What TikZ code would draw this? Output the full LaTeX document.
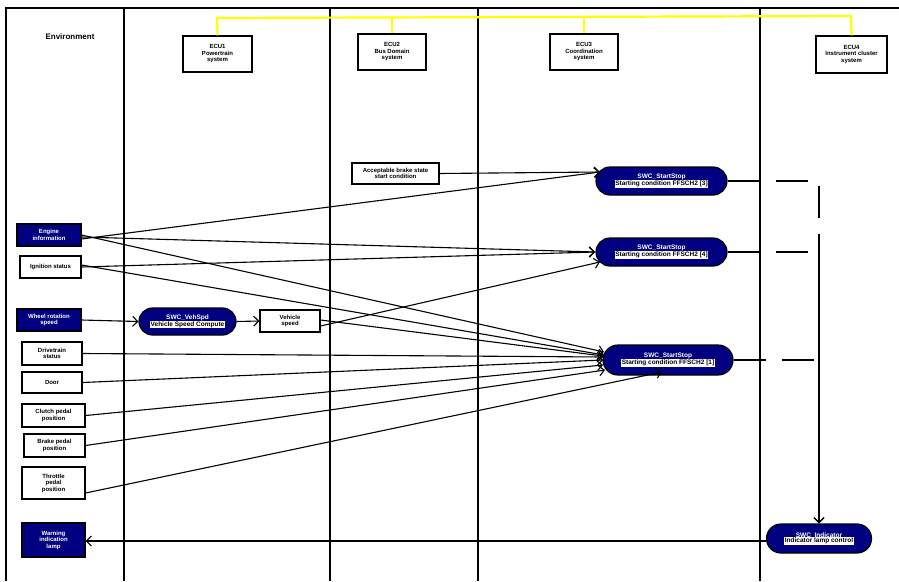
\documentclass[tikz,border=0pt]{standalone}
\usepackage{fontspec}
\setmainfont{Liberation Sans}
\usetikzlibrary{shapes.misc,arrows.meta}
\definecolor{navy}{RGB}{0,0,128}
\definecolor{yel}{RGB}{255,255,0}
\tikzset{
  lane/.style={line width=1.5pt,black},
  txt/.style={font=\fontsize{6}{6.5}\selectfont\bfseries,align=center,inner sep=1pt},
  wbox/.style={txt,draw,line width=1.2pt,fill=white,rectangle},
  bbox/.style={txt,draw,line width=1.2pt,fill=navy,text=white,rectangle},
  rnode/.style={txt,font=\fontsize{6.5}{6.5}\selectfont\bfseries,draw,line width=1.2pt,fill=navy,rounded rectangle},
  arr/.style={line width=1.1pt,-{Straight Barb[length=5pt,width=10pt,line width=1.1pt]}},
  dsh/.style={line width=1.1pt,dash pattern=on 32pt off 16pt,-{Straight Barb[length=5pt,width=10pt,line width=1.1pt]}},
  ylw/.style={line width=2.2pt,yel},
}
\newcommand{\rtxt}[2]{\textcolor{white}{#1}\\[-1pt]{\setlength{\fboxsep}{0.6pt}\colorbox{white}{\textcolor{black}{#2}}}}
\begin{document}
\begin{tikzpicture}[x=1pt,y=-1pt]
\useasboundingbox (0,0) rectangle (899,581);
% lanes
\draw[lane] (6,581) -- (6,8) -- (899,8);
\foreach \xx in {124,330,478,760} \draw[lane] (\xx,8) -- (\xx,581);
\node[txt,font=\fontsize{8}{9}\selectfont\bfseries] (env) at (70,37) {Environment};
% top boxes
\node[wbox,minimum width=69pt,minimum height=36pt] (e1) at (217.5,54) {ECU1\\Powertrain\\system};
\node[wbox,minimum width=68pt,minimum height=36pt] (e2) at (392,52) {ECU2\\Bus Domain\\system};
\node[wbox,minimum width=68pt,minimum height=36pt] (e3) at (584,52) {ECU3\\Coordination\\system};
\node[wbox,minimum width=71pt,minimum height=37pt] (e4) at (851.5,54.5) {ECU4\\Instrument cluster\\system};
\coordinate (y1) at (217,18);
\coordinate (y4) at (851,16);
\draw[ylw] (e1.north) -- (y1) -- (y4) -- (e4.north);
\draw[ylw] (e2.north) -- (e2.north |- 0,17.5);
\draw[ylw] (e3.north) -- (e3.north |- 0,17);
% left inputs
\node[bbox,minimum width=64pt,minimum height=22pt] (eng) at (49,235) {Engine\\information};
\node[wbox,minimum width=61pt,minimum height=22pt] (ign) at (50.5,267) {Ignition status};
\node[bbox,minimum width=64pt,minimum height=22pt] (whl) at (49,320) {Wheel rotation\\speed};
\node[wbox,minimum width=60pt,minimum height=23pt] (drv) at (52,353.5) {Drivetrain\\status};
\node[wbox,minimum width=60pt,minimum height=21pt] (door) at (52,382.5) {Door};
\node[wbox,minimum width=63pt,minimum height=23pt] (clu) at (53.5,415.5) {Clutch pedal\\position};
\node[wbox,minimum width=61pt,minimum height=23pt] (brk) at (54.5,445.5) {Brake pedal\\position};
\node[wbox,minimum width=63pt,minimum height=32pt] (thr) at (53.5,483) {Throttle\\pedal\\position};
\node[bbox,minimum width=63pt,minimum height=34pt] (lamp) at (53.5,540) {Warning\\indication\\lamp};
% middle
\node[rnode,minimum width=99pt,minimum height=27pt] (vsc) at (187.5,321.5) {\rtxt{SWC\_VehSpd}{Vehicle Speed Compute}};
\node[wbox,minimum width=60pt,minimum height=22pt] (vs) at (290,321) {Vehicle\\speed};
\node[wbox,minimum width=87pt,minimum height=21pt] (acc) at (395.5,173.5) {Acceptable brake state\\start condition};
% right nodes
\node[rnode,minimum width=133pt,minimum height=28pt] (na) at (661.5,181) {\rtxt{SWC\_StartStop}{Starting condition FFSCH2 [3]}};
\node[rnode,minimum width=133pt,minimum height=28pt] (nb) at (661.5,252) {\rtxt{SWC\_StartStop}{Starting condition FFSCH2 [4]}};
\node[rnode,minimum width=132pt,minimum height=30pt] (nc) at (668,360) {\rtxt{SWC\_StartStop}{Starting condition FFSCH2 [1]}};
\node[rnode,minimum width=107pt,minimum height=29pt] (nd) at (819,538.5) {\rtxt{SWC\_Indicator}{Indicator lamp control}};
% connectors
\draw[arr] (acc.east) -- (600,172);
\draw[arr] ([yshift=-4pt]eng.east) -- (600,172);
\draw[arr] ([yshift=-2pt]eng.east) -- (595,252);
\draw[arr] (ign.east) -- (595,252);
\draw[arr] ([yshift=-5pt]vs.east) -- (600,262);
\draw[arr] (eng.east) -- (604,352);
\draw[arr] ([yshift=2pt]ign.east) -- (604,355);
\draw[arr] ([yshift=1pt]vs.east) -- (603,356);
\draw[arr] (drv.east) -- (603,357);
\draw[arr] (door.east) -- (603,360);
\draw[arr] (clu.east) -- (603,365);
\draw[arr] (brk.east) -- (605,370);
\draw[arr] ([yshift=-10pt]thr.east) -- (662,372);
\draw[arr] (whl.east) -- (vsc.west);
\draw[arr] (vsc.east) -- (vs.west);
\draw[arr] (nd.west |- 0,541) -- (lamp.east |- 0,541);
\draw[dsh] (na.east) -- (nd.north |- na.east) -- (nd.north);
\draw[dsh] (nb.east) -- (nd.north |- nb.east) -- (nd.north);
\draw[dsh] (nc.east) -- (nd.north |- nc.east) -- (nd.north);
\end{tikzpicture}
\end{document}
